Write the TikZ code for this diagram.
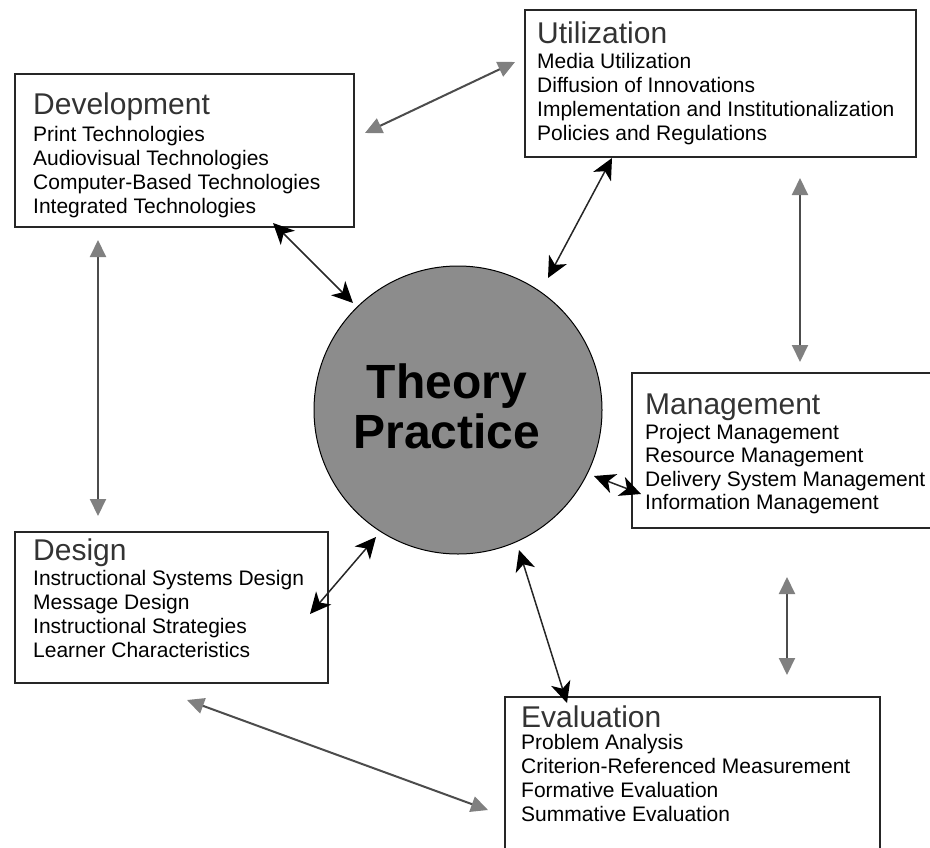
\documentclass[tikz,border=0pt]{standalone}
\usepackage{fontspec}
\setmainfont{Liberation Sans}
\usepackage{graphicx}
\usetikzlibrary{arrows.meta}
\definecolor{hatch}{gray}{0.55}
\definecolor{headgray}{gray}{0.5}
\tikzset{
 box/.style={draw=black!85, line width=1.3bp, anchor=north west, inner sep=0pt, outer sep=0pt},
 txt/.style={anchor=north west, inner sep=0pt, align=left, text=black, font=\fontsize{21bp}{24bp}\selectfont},
 blk/.style={line width=1.5bp, draw=black!85, {Stealth[length=21bp,width=20bp,inset=6bp,color=black]}-{Stealth[length=21bp,width=20bp,inset=6bp,color=black]}},
 gry/.style={line width=2bp, draw=black!70, {Triangle[length=17bp,width=16bp,color=headgray]}-{Triangle[length=17bp,width=16bp,color=headgray]}},
 bigtxt/.style={anchor=base, inner sep=0pt, font=\bfseries\fontsize{48bp}{48bp}\selectfont},
}
\newcommand\ttl[1]{{\fontsize{30bp}{30bp}\selectfont\color{black!80}#1}}
\begin{document}
\begin{tikzpicture}[x=1bp,y=-1bp]
\useasboundingbox (0,0) rectangle (930,848);
% boxes
\node[box, minimum width=339bp, minimum height=153bp] (dev) at (15,74) {};
\node[box, minimum width=391bp, minimum height=147bp] (util) at (525,10) {};
\node[box, minimum width=320bp, minimum height=155bp] (mgmt) at (632,373) {};
\node[box, minimum width=313bp, minimum height=151bp] (des) at (15,532) {};
\node[box, minimum width=375bp, minimum height=170bp] (eval) at (505,697) {};
% texts
\node[txt] (devt) at (33,92.5) {\ttl{Development}\\[3bp]Print Technologies\\Audiovisual Technologies\\Computer-Based Technologies\\Integrated Technologies};
\node[txt] (utilt) at (537,21.5) {\ttl{Utilization}\\[1bp]Media Utilization\\Diffusion of Innovations\\Implementation and Institutionalization\\Policies and Regulations};
\node[txt, font=\fontsize{21bp}{23.5bp}\selectfont] (mgmtt) at (645,393.5) {\ttl{Management}\\[1.5bp]Project Management\\Resource Management\\Delivery System Management\\Information Management};
\node[txt] (dest) at (33,538.5) {\ttl{Design}\\[1bp]Instructional Systems Design\\Message Design\\Instructional Strategies\\Learner Characteristics};
\node[txt] (evalt) at (521,705.5) {\ttl{Evaluation}\\[-2bp]Problem Analysis\\Criterion-Referenced Measurement\\Formative Evaluation\\Summative Evaluation};
% circle
\node[circle, fill=hatch, draw=black, line width=1bp, minimum size=288bp, inner sep=0pt] (tp) at (458,410) {};
\node[bigtxt] (th) at (447,398) {Theory};
\node[bigtxt] (pr) at (447,448) {Practice};
% connector ends
\coordinate (a1) at (273,223); \coordinate (a2) at (353,303);
\coordinate (b1) at (612,158); \coordinate (b2) at (548,278);
\coordinate (c1) at (594,476); \coordinate (c2) at (641,494);
\coordinate (d1) at (376,537); \coordinate (d2) at (310,614);
\coordinate (e1) at (519,550); \coordinate (e2) at (567,703);
\coordinate (f1) at (365,133); \coordinate (f2) at (515,62);
\coordinate (g1) at (98,240); \coordinate (g2) at (98,516);
\coordinate (h1) at (800,178); \coordinate (h2) at (800,362);
\coordinate (i1) at (787,577); \coordinate (i2) at (787,675);
\coordinate (j1) at (187,700); \coordinate (j2) at (488,810);
% black connectors
\draw[blk] (a1) -- (a2);
\draw[blk] (b1) -- (b2);
\draw[blk] (c1) -- (c2);
\draw[blk] (d1) -- (d2);
\draw[blk] (e1) -- (e2);
% gray connectors
\draw[gry] (f1) -- (f2);
\draw[gry] (g1) -- (g2);
\draw[gry] (h1) -- (h2);
\draw[gry] (i1) -- (i2);
\draw[gry] (j1) -- (j2);
\end{tikzpicture}
\end{document}
